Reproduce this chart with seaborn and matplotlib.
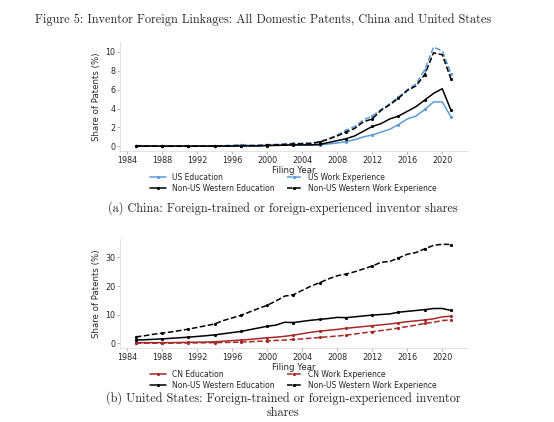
import numpy as np
import pandas as pd
import matplotlib
matplotlib.use("Agg")
import matplotlib.pyplot as plt
import seaborn as sns

years = list(range(1985, 2022))

# China panel
cn_us_edu = [0.05, 0.04, 0.03, 0.03, 0.03, 0.03, 0.03, 0.03, 0.03, 0.03, 0.04, 0.06, 0.1, 0.08, 0.08, 0.1, 0.1, 0.12, 0.12, 0.12, 0.12,
             0.15, 0.25, 0.35, 0.5, 0.7, 1.0, 1.2, 1.5, 1.8, 2.3, 2.9, 3.2, 3.9, 4.7, 4.7, 3.1]
cn_us_work = [0.08, 0.06, 0.05, 0.05, 0.05, 0.05, 0.05, 0.05, 0.05, 0.05, 0.07, 0.1, 0.18, 0.12, 0.12, 0.18, 0.2, 0.25, 0.3, 0.32, 0.35,
              0.5, 0.8, 1.2, 1.7, 2.1, 2.8, 3.2, 3.9, 4.5, 5.2, 6.0, 6.6, 8.1, 10.5, 10.1, 7.7]
cn_nw_edu = [0.02, 0.02, 0.02, 0.02, 0.02, 0.02, 0.02, 0.02, 0.02, 0.02, 0.02, 0.03, 0.05, 0.04, 0.04, 0.08, 0.1, 0.12, 0.15, 0.15, 0.15,
             0.2, 0.4, 0.6, 0.8, 1.1, 1.6, 2.1, 2.4, 2.9, 3.2, 3.7, 4.2, 4.9, 5.6, 6.1, 3.8]
cn_nw_work = [0.03, 0.03, 0.03, 0.03, 0.03, 0.03, 0.03, 0.03, 0.03, 0.03, 0.03, 0.05, 0.08, 0.06, 0.08, 0.12, 0.15, 0.2, 0.25, 0.28, 0.3,
              0.45, 0.75, 1.1, 1.5, 1.9, 2.6, 2.9, 3.8, 4.4, 5.1, 5.9, 6.4, 7.6, 9.9, 9.7, 7.1]

# United States panel
us_cn_edu = [0.3, 0.3, 0.3, 0.3, 0.3, 0.35, 0.4, 0.45, 0.5, 0.6, 0.8, 1.0, 1.2, 1.4, 1.7, 2.0, 2.2, 2.5, 2.9, 3.4, 3.9,
             4.3, 4.6, 4.9, 5.3, 5.6, 5.9, 6.2, 6.5, 6.8, 7.2, 7.6, 7.9, 8.2, 8.6, 9.3, 9.5]
us_cn_work = [0.1, 0.1, 0.1, 0.1, 0.12, 0.15, 0.2, 0.22, 0.25, 0.3, 0.35, 0.4, 0.5, 0.6, 0.75, 0.9, 1.05, 1.2, 1.4, 1.6, 1.85,
              2.1, 2.35, 2.6, 2.9, 3.3, 3.7, 4.1, 4.5, 4.9, 5.4, 5.9, 6.4, 7.0, 7.4, 8.0, 8.2]
us_nw_edu = [1.2, 1.3, 1.45, 1.6, 1.8, 2.0, 2.2, 2.45, 2.7, 3.0, 3.4, 3.8, 4.2, 4.8, 5.4, 6.0, 6.4, 7.4, 7.3, 7.7, 8.1,
             8.4, 8.7, 9.1, 9.0, 9.3, 9.6, 9.9, 10.1, 10.3, 10.9, 11.2, 11.5, 11.8, 12.2, 12.2, 11.5]
us_nw_work = [2.3, 2.7, 3.2, 3.6, 4.0, 4.5, 5.0, 5.6, 6.2, 6.8, 8.0, 8.9, 9.8, 11.0, 12.2, 13.3, 14.8, 16.5, 17.0, 18.5, 20.0,
              21.2, 22.5, 23.6, 24.2, 25.0, 26.0, 27.0, 28.3, 28.6, 29.8, 31.1, 31.7, 33.0, 34.2, 34.6, 34.5]

xticks = [1984, 1988, 1992, 1996, 2000, 2004, 2008, 2012, 2016, 2020]

blue = "#5b9bd5"
red = "#a52a2a"

sns.set_style("ticks")
plt.rcParams["font.family"] = ["DejaVu Sans"]

fig = plt.figure(figsize=(5.54, 4.22), dpi=100)
ax1 = fig.add_axes([0.2166, 0.642, 0.626, 0.258])
ax2 = fig.add_axes([0.2166, 0.175, 0.626, 0.258])


def draw(ax, series, yticks):
    for vals, lab, col, ls in series:
        sns.lineplot(x=years, y=vals, ax=ax, color=col, linestyle=ls, linewidth=1.1,
                     marker="o", markersize=2.3, markevery=3, markeredgewidth=0, label=lab)
    ax.set_xticks(xticks)
    ax.set_yticks(yticks)
    ax.tick_params(labelsize=5.8, length=2, width=0.5, color="#999999", pad=1.5)
    for s in ["top", "right"]:
        ax.spines[s].set_visible(False)
    for s in ["left", "bottom"]:
        ax.spines[s].set_color("#dddddd")
        ax.spines[s].set_linewidth(0.6)
    ax.set_xlabel("Filing Year", fontsize=6.2, labelpad=0.5)
    ax.set_ylabel("Share of Patents (%)", fontsize=6.2, labelpad=3)
    h, l = ax.get_legend_handles_labels()
    order = [0, 2, 1, 3]
    ax.legend([h[i] for i in order], [l[i] for i in order], loc="upper center",
              bbox_to_anchor=(0.5, -0.165), ncol=2, frameon=False, fontsize=5.5,
              handlelength=2.0, columnspacing=1.6, borderpad=0, labelspacing=0.25)


draw(ax1, [(cn_us_edu, "US Education", blue, "-"),
           (cn_us_work, "US Work Experience", blue, "--"),
           (cn_nw_edu, "Non-US Western Education", "black", "-"),
           (cn_nw_work, "Non-US Western Work Experience", "black", "--")],
     [0, 2, 4, 6, 8, 10])
draw(ax2, [(us_cn_edu, "CN Education", red, "-"),
           (us_cn_work, "CN Work Experience", red, "--"),
           (us_nw_edu, "Non-US Western Education", "black", "-"),
           (us_nw_work, "Non-US Western Work Experience", "black", "--")],
     [0, 10, 20, 30])

serif = ["cmr10", "DejaVu Serif"]
fig.text(0.475, 1 - 20 / 422, "Figure 5: Inventor Foreign Linkages: All Domestic Patents, China and United States",
         ha="center", va="center", fontsize=8.8, family=serif)
fig.text(0.511, 1 - 208 / 422, "(a) China: Foreign-trained or foreign-experienced inventor shares",
         ha="center", va="center", fontsize=8.8, family=serif)
fig.text(0.511, 1 - 398 / 422, "(b) United States: Foreign-trained or foreign-experienced inventor",
         ha="center", va="center", fontsize=8.8, family=serif)
fig.text(0.511, 1 - 413 / 422, "shares",
         ha="center", va="center", fontsize=8.8, family=serif)

fig.savefig("out.png", dpi=100)
